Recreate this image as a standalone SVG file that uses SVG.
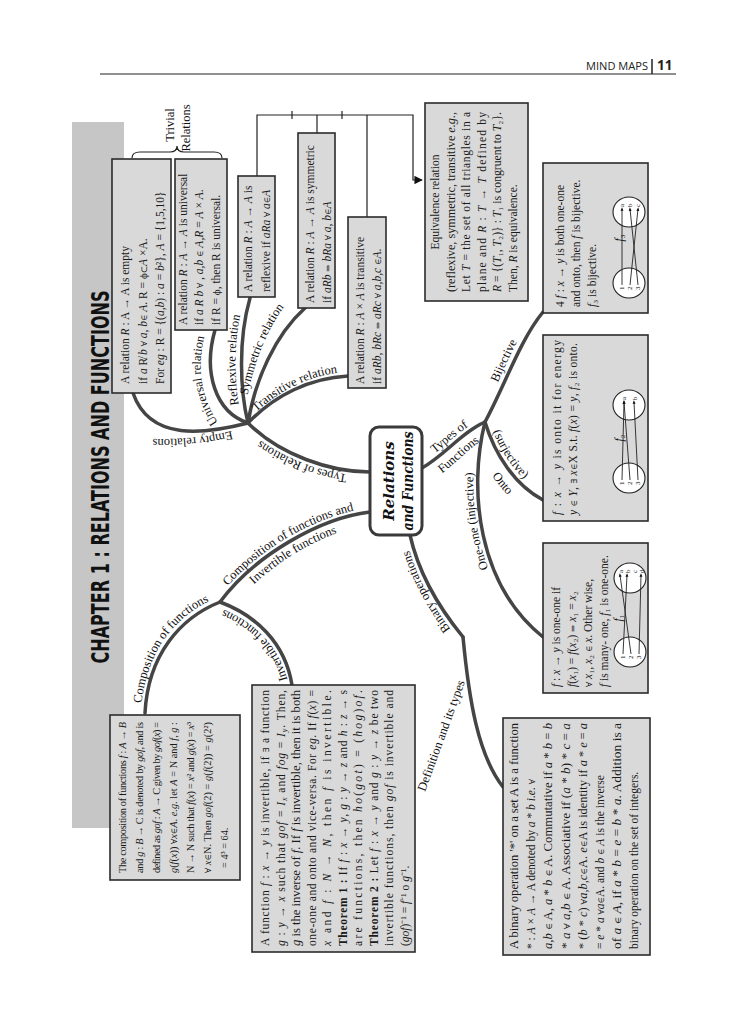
<svg xmlns="http://www.w3.org/2000/svg" width="745" height="1024" viewBox="0 0 745 1024">
<defs>
<style>
.bx{fill:#d9d9d9;stroke:#2b2b2b;stroke-width:1.6}
.t{font-family:"Liberation Serif",serif;font-size:11.5px;fill:#1a1a1a}
.c{font-size:10.3px}
.i{font-style:italic}
.b{font-weight:bold}
.m{font-family:"DejaVu Serif",serif;font-size:8.6px}
.br{fill:none;stroke:#454545;stroke-width:3.5;stroke-linecap:round}
.lb{font-family:"Liberation Serif",serif;font-size:12.5px;fill:#111}
.cn{fill:none;stroke:#222;stroke-width:1.2}
.ov{fill:#fff;stroke:#222;stroke-width:1.1}
.sm{font-family:"Liberation Serif",serif;font-size:7px;fill:#111}
.ar{stroke:#222;stroke-width:0.9;marker-end:url(#sa)}
</style>
<marker id="ah" viewBox="0 0 10 10" refX="9" refY="5" markerWidth="7" markerHeight="7" orient="auto"><path d="M0,0 L10,5 L0,10 z" fill="#111"/></marker>
<marker id="sa" viewBox="0 0 10 10" refX="5" refY="5" markerWidth="4" markerHeight="4" orient="auto"><path d="M0,1 L10,5 L0,9 z" fill="#111"/></marker>
<path id="p1" d="M368,476 C 330,476 278,459 244,427"/>
<path id="p2" d="M244,428 C 210,437 175,441 140,438"/>
<path id="p3" d="M222,428 C 204,405 194,372 206,330"/>
<path id="p4" d="M242,420 C 234,388 232,340 244,300"/>
<path id="p5" d="M244,416 C 250,372 266,322 298,291"/>
<path id="p6" d="M250,418 C 277,391 311,374 346,372"/>
<path id="p7a" d="M421,463 C 443,450 460,428 483,418"/>
<path id="p7b" d="M431,481 C 453,468 470,445 491,435"/>
<path id="p8" d="M481,418 C 500,381 515,337 538,309"/>
<path id="p9a" d="M489,420 C 499,452 519,481 546,496"/>
<path id="p9b" d="M472,432 C 482,466 503,498 533,514"/>
<path id="p10" d="M541,641 C 474,590 463,490 481,421"/>
<path id="p11" d="M459,640 C 441,618 416,583 406,537"/>
<path id="p12a" d="M218,598 C 253,551 318,514 369,508"/>
<path id="p12b" d="M232,609 C 262,568 322,531 369,525"/>
<path id="p13" d="M141,712 C 144,652 177,613 217,598"/>
<path id="p14" d="M289,687 C 281,645 251,619 217,607"/>
</defs>
<rect width="745" height="1024" fill="#fff"/>

<g id="header">
<line x1="100" y1="74" x2="676" y2="74" stroke="#222" stroke-width="1.2"/>
<line x1="652" y1="59" x2="652" y2="74" stroke="#222" stroke-width="1.5"/>
<text x="586" y="70" font-family="Open Sans, Liberation Sans, sans-serif" font-size="10" textLength="62" lengthAdjust="spacingAndGlyphs" fill="#222">MIND MAPS</text>
<text x="657" y="70" font-family="Open Sans, Liberation Sans, sans-serif" font-size="13.5" font-weight="bold" fill="#222">11</text>
</g>

<g id="connectors">
<path class="br" d="M370,472 C 330,472 280,455 248,423"/>
<path class="br" d="M248,423 C 205,434 150,442 133,393"/>
<path class="br" d="M248,423 C 215,412 203,372 215,330"/>
<path class="br" d="M248,423 C 240,390 238,340 250,298"/>
<path class="br" d="M248,423 C 255,380 275,335 305,308"/>
<path class="br" d="M248,423 C 275,395 310,378 348,376"/>
<path class="br" d="M422,468 C 445,455 462,432 485,422"/>
<path class="br" d="M485,422 C 505,385 520,340 543,312"/>
<path class="br" d="M485,422 C 495,455 515,485 543,500"/>
<path class="br" d="M485,422 C 468,490 478,585 543,637"/>
<path class="br" d="M410,535 C 420,580 445,615 463,637"/>
<path class="br" d="M463,637 C 469,700 478,755 503,787"/>
<path class="br" d="M370,512 C 320,518 255,555 220,602"/>
<path class="br" d="M220,602 C 180,618 148,655 145,713"/>
<path class="br" d="M220,602 C 255,615 285,642 292,685"/>
<path class="cn" d="M257,176 V115 H413 V180 H422" marker-end="url(#ah)"/>
<path class="cn" d="M317,115 V133 M367,115 V217 M292,111 V119 M342,111 V119"/>
<path class="cn" stroke-width="1.5" d="M132,158 Q132,152 140,152 L170,152 Q177,152 177,146 Q177,152 184,152 L214,152 Q222,152 222,158"/>
<text class="lb"><textPath href="#p1" startOffset="50%" text-anchor="middle">Types of Relations</textPath></text>
<text class="lb"><textPath href="#p2" startOffset="50%" text-anchor="middle">Empty relations</textPath></text>
<text class="lb"><textPath href="#p3" startOffset="50%" text-anchor="middle">Universal relation</textPath></text>
<text class="lb"><textPath href="#p4" startOffset="50%" text-anchor="middle">Reflexive relation</textPath></text>
<text class="lb"><textPath href="#p5" startOffset="50%" text-anchor="middle">Symmetric relation</textPath></text>
<text class="lb"><textPath href="#p6" startOffset="50%" text-anchor="middle">Transitive relation</textPath></text>
<text class="lb"><textPath href="#p7a" startOffset="50%" text-anchor="middle">Types of</textPath></text>
<text class="lb"><textPath href="#p7b" startOffset="50%" text-anchor="middle">Functions</textPath></text>
<text class="lb"><textPath href="#p8" startOffset="50%" text-anchor="middle">Bijective</textPath></text>
<text class="lb"><textPath href="#p9a" startOffset="42%" text-anchor="middle">(surjective)</textPath></text>
<text class="lb"><textPath href="#p9b" startOffset="58%" text-anchor="middle">Onto</textPath></text>
<text class="lb"><textPath href="#p10" startOffset="58%" text-anchor="middle">One-one (injective)</textPath></text>
<text class="lb"><textPath href="#p11" startOffset="50%" text-anchor="middle">Binary operations</textPath></text>
<text class="lb" font-size="11.5" transform="translate(445,737) rotate(-70)" text-anchor="middle">Definition and its types</text>
<text class="lb"><textPath href="#p12a" startOffset="50%" text-anchor="middle">Composition of functions and</textPath></text>
<text class="lb"><textPath href="#p12b" startOffset="50%" text-anchor="middle">Invertible functions</textPath></text>
<text class="lb"><textPath href="#p13" startOffset="50%" text-anchor="middle">Composition of functions</textPath></text>
<text class="lb"><textPath href="#p14" startOffset="50%" text-anchor="middle">Invertible functions</textPath></text>
</g>

<g id="rotated-page" transform="matrix(0,-1,1,0,0,1024)">
<g id="chapter-title">
<rect x="196" y="72" width="706" height="52" fill="#c6c6c6"/>
<text x="547" y="109" text-anchor="middle" font-family="DejaVu Sans Condensed, DejaVu Sans, sans-serif" font-weight="bold" font-size="24" textLength="373" lengthAdjust="spacingAndGlyphs" fill="#111">CHAPTER 1 : RELATIONS AND FUNCTIONS</text>
</g>

<g id="trivial-label">
<text class="lb" x="899" y="174" text-anchor="middle">Trivial</text>
<text class="lb" x="896" y="190" text-anchor="middle">Relations</text>
</g>

<g id="empty-relation">
<rect class="bx" x="631" y="112" width="234" height="59"/>
<text class="t" x="640" y="129">A relation <tspan class="i">R</tspan> : A → A is empty</text>
<text class="t" x="640" y="147">if <tspan class="i">a</tspan> R̸ <tspan class="i">b</tspan> <tspan class="m">∀</tspan> <tspan class="i">a</tspan>, <tspan class="i">b</tspan><tspan class="m">∈</tspan> <tspan class="i">A</tspan>. R = <tspan class="m">ϕ⊂</tspan><tspan class="i">A</tspan> ×A.</text>
<text class="t" x="640" y="164">For <tspan class="i">eg</tspan> : R = {(<tspan class="i">a,b</tspan>) : <tspan class="i">a</tspan> = <tspan class="i">b</tspan>²}, <tspan class="i">A</tspan> = {1,5,10}</text>
</g>

<g id="universal-relation">
<rect class="bx" x="694" y="175" width="171" height="52"/>
<text class="t" x="699" y="187">A relation <tspan class="i">R</tspan> : <tspan class="i">A</tspan> → <tspan class="i">A</tspan> is universal</text>
<text class="t" x="699" y="203">if <tspan class="i">a R b</tspan> <tspan class="m">∀</tspan> , <tspan class="i">a,b</tspan> <tspan class="m">∈</tspan> <tspan class="i">A,R</tspan> = <tspan class="i">A</tspan> × <tspan class="i">A</tspan>.</text>
<text class="t" x="699" y="220">if R = <tspan class="m">ϕ</tspan>, then R is universal.</text>
</g>

<g id="reflexive-relation">
<rect class="bx" x="727" y="238" width="121" height="37"/>
<text class="t" x="732" y="252">A relation <tspan class="i">R</tspan> : <tspan class="i">A</tspan> → <tspan class="i">A</tspan> is</text>
<text class="t" x="732" y="270">reflexive if <tspan class="i">aRa</tspan> <tspan class="m">∀</tspan> <tspan class="i">a</tspan><tspan class="m">∈</tspan><tspan class="i">A</tspan></text>
</g>

<g id="symmetric-relation">
<rect class="bx" x="716" y="298" width="175" height="37"/>
<text class="t" x="721" y="314">A relation <tspan class="i">R</tspan> : <tspan class="i">A</tspan> → <tspan class="i">A</tspan> is symmetric</text>
<text class="t" x="721" y="331">if <tspan class="i">aRb</tspan> <tspan class="m">⇒</tspan> <tspan class="i">bRa</tspan> <tspan class="m">∀</tspan> <tspan class="i">a</tspan>, <tspan class="i">b</tspan><tspan class="m">∈</tspan><tspan class="i">A</tspan></text>
</g>

<g id="transitive-relation">
<rect class="bx" x="636" y="348" width="171" height="38"/>
<text class="t" x="640" y="364">A relation <tspan class="i">R</tspan> : <tspan class="i">A</tspan> × <tspan class="i">A</tspan> is transitive</text>
<text class="t" x="640" y="381">if <tspan class="i">aRb</tspan>, <tspan class="i">bRc</tspan> <tspan class="m">⇒</tspan> <tspan class="i">aRc</tspan> <tspan class="m">∀</tspan> <tspan class="i">a,b,c</tspan> <tspan class="m">∈</tspan><tspan class="i">A</tspan>.</text>
</g>

<g id="equivalence-relation">
<rect class="bx" x="723" y="425" width="198" height="103"/>
<text class="t" x="822" y="439" text-anchor="middle">Equivalence relation</text>
<text class="t" x="732" y="455" textLength="180" lengthAdjust="spacingAndGlyphs">(reflexive, symmetric, transitive <tspan class="i">e.g.,</tspan></text>
<text class="t" x="732" y="470" textLength="180" lengthAdjust="spacing">Let <tspan class="i">T</tspan> = the set of all triangles in a</text>
<text class="t" x="732" y="486" textLength="180" lengthAdjust="spacing">plane and <tspan class="i">R</tspan> : <tspan class="i">T</tspan> → <tspan class="i">T</tspan> defined by</text>
<text class="t" x="732" y="501" textLength="180" lengthAdjust="spacingAndGlyphs"><tspan class="i">R</tspan> = {(<tspan class="i">T</tspan>₁, <tspan class="i">T</tspan>₂)} : <tspan class="i">T</tspan>₁ is congruent to <tspan class="i">T</tspan>₂}.</text>
<text class="t" x="732" y="517">Then, <tspan class="i">R</tspan> is equivalence.</text>
</g>

<g id="bijective">
<rect class="bx" x="711" y="543" width="150" height="105"/>
<text class="t" x="717" y="564">4 <tspan class="i">f</tspan> : <tspan class="i">x</tspan> → <tspan class="i">y</tspan> is both one-one</text>
<text class="t" x="717" y="580">and onto, then <tspan class="i">f</tspan> is bijective.</text>
<text class="t" x="717" y="596"><tspan class="i">f</tspan>₃ is bijective.</text>
<text class="t" x="786" y="623" text-anchor="middle"><tspan class="i">f</tspan>₃</text>
<ellipse class="ov" cx="741" cy="629" rx="15" ry="16"/>
<ellipse class="ov" cx="812" cy="629" rx="15" ry="16"/>
<text class="sm" x="734" y="624">1</text><text class="sm" x="734" y="632">2</text><text class="sm" x="734" y="640">3</text>
<text class="sm" x="817" y="624">a</text><text class="sm" x="817" y="632">b</text><text class="sm" x="817" y="640">c</text>
<line class="ar" x1="739" y1="622" x2="815" y2="622"/>
<line class="ar" x1="739" y1="630" x2="815" y2="638"/>
<line class="ar" x1="739" y1="638" x2="815" y2="630"/>
</g>

<g id="onto">
<rect class="bx" x="503" y="543" width="186" height="105"/>
<text class="t" x="509" y="561" textLength="175" lengthAdjust="spacing"><tspan class="i">f</tspan> : <tspan class="i">x</tspan> → <tspan class="i">y</tspan> is onto it for energy</text>
<text class="t" x="509" y="577" textLength="172" lengthAdjust="spacing"><tspan class="i">y</tspan> <tspan class="m">∈</tspan> <tspan class="i">Y</tspan>, <tspan class="m">∃</tspan> <tspan class="i">x</tspan><tspan class="m">∈</tspan>X S.t. <tspan class="i">f</tspan>(<tspan class="i">x</tspan>) = <tspan class="i">y</tspan>, <tspan class="i">f</tspan>₂ is onto.</text>
<text class="t" x="586" y="623" text-anchor="middle"><tspan class="i">f</tspan>₂</text>
<ellipse class="ov" cx="546" cy="629" rx="15" ry="16"/>
<ellipse class="ov" cx="619" cy="629" rx="15" ry="16"/>
<text class="sm" x="539" y="624">1</text><text class="sm" x="539" y="632">2</text><text class="sm" x="539" y="640">3</text>
<text class="sm" x="624" y="626">a</text><text class="sm" x="624" y="637">b</text>
<line class="ar" x1="544" y1="622" x2="622" y2="624"/>
<line class="ar" x1="544" y1="630" x2="622" y2="624"/>
<line class="ar" x1="544" y1="638" x2="622" y2="634"/>
</g>

<g id="one-one">
<rect class="bx" x="331" y="543" width="150" height="105"/>
<text class="t" x="337" y="560"><tspan class="i">f</tspan> : <tspan class="i">x</tspan> → <tspan class="i">y</tspan> is one-one if</text>
<text class="t" x="337" y="576"><tspan class="i">f</tspan>(<tspan class="i">x</tspan>₁) = <tspan class="i">f</tspan>(<tspan class="i">x</tspan>₂) <tspan class="m">⇒</tspan> <tspan class="i">x</tspan>₁ = <tspan class="i">x</tspan>₂</text>
<text class="t" x="337" y="592"><tspan class="m">∀</tspan> <tspan class="i">x</tspan>₁, <tspan class="i">x</tspan>₂ <tspan class="m">∈</tspan> <tspan class="i">x</tspan>. Other wise,</text>
<text class="t" x="337" y="608"><tspan class="i">f</tspan> is many- one, <tspan class="i">f</tspan>₁ is one-one.</text>
<text class="t" x="406" y="622" text-anchor="middle"><tspan class="i">f</tspan>₁</text>
<ellipse class="ov" cx="372" cy="630" rx="15" ry="16"/>
<ellipse class="ov" cx="446" cy="630" rx="15" ry="16"/>
<text class="sm" x="365" y="625">1</text><text class="sm" x="365" y="633">2</text><text class="sm" x="365" y="641">3</text>
<text class="sm" x="451" y="623">a</text><text class="sm" x="451" y="630">b</text><text class="sm" x="451" y="637">c</text><text class="sm" x="451" y="644">d</text>
<line class="ar" x1="370" y1="623" x2="449" y2="627"/>
<line class="ar" x1="370" y1="631" x2="449" y2="620"/>
<line class="ar" x1="370" y1="639" x2="449" y2="641"/>
</g>

<g id="composition">
<rect class="bx" x="144" y="110" width="165" height="130"/>
<text class="t c" x="151" y="126" textLength="151" lengthAdjust="spacing">The composition of functions <tspan class="i">f</tspan> : <tspan class="i">A</tspan> → <tspan class="i">B</tspan></text>
<text class="t c" x="151" y="143" textLength="151" lengthAdjust="spacing">and <tspan class="i">g</tspan> : <tspan class="i">B</tspan> → C is denoted by <tspan class="i">gof</tspan>, and is</text>
<text class="t c" x="151" y="160" textLength="151" lengthAdjust="spacing">defined as <tspan class="i">gof</tspan> : <tspan class="i">A</tspan> → C given by <tspan class="i">gof</tspan>(<tspan class="i">x</tspan>) =</text>
<text class="t c" x="151" y="177" textLength="151" lengthAdjust="spacing"><tspan class="i">g</tspan>(<tspan class="i">f</tspan>(<tspan class="i">x</tspan>)) <tspan class="m">∀</tspan><tspan class="i">x</tspan><tspan class="m">∈</tspan><tspan class="i">A</tspan>. <tspan class="i">e.g.</tspan> let <tspan class="i">A</tspan> = N and <tspan class="i">f</tspan>, <tspan class="i">g</tspan> :</text>
<text class="t c" x="151" y="194" textLength="151" lengthAdjust="spacing">N → N such that <tspan class="i">f</tspan>(<tspan class="i">x</tspan>) = <tspan class="i">x</tspan>² and <tspan class="i">g</tspan>(<tspan class="i">x</tspan>) = <tspan class="i">x</tspan>³</text>
<text class="t c" x="151" y="211" textLength="151" lengthAdjust="spacing"><tspan class="m">∀</tspan> <tspan class="i">x</tspan><tspan class="m">∈</tspan>N. Then <tspan class="i">gof</tspan>(2) = <tspan class="i">g</tspan>(<tspan class="i">f</tspan>(2)) = <tspan class="i">g</tspan>(2²)</text>
<text class="t c" x="156" y="228">= 4³ = 64.</text>
</g>

<g id="invertible">
<rect class="bx" x="72" y="252" width="267" height="163"/>
<text class="t" x="78" y="269" textLength="256" lengthAdjust="spacing">A function <tspan class="i">f</tspan> : <tspan class="i">x</tspan> → <tspan class="i">y</tspan> is invertible, if <tspan class="m">∃</tspan> a function</text>
<text class="t" x="78" y="284.5" textLength="256" lengthAdjust="spacing"><tspan class="i">g</tspan> : <tspan class="i">y</tspan> → <tspan class="i">x</tspan> such that <tspan class="i">gof</tspan> = <tspan class="i">I</tspan><tspan class="i" font-size="8" dy="2">x</tspan><tspan dy="-2"> and </tspan><tspan class="i">fog</tspan> = <tspan class="i">I</tspan><tspan class="i" font-size="8" dy="2">y</tspan><tspan dy="-2">. Then,</tspan></text>
<text class="t" x="78" y="300" textLength="256" lengthAdjust="spacingAndGlyphs"><tspan class="i">g</tspan> is the inverse of <tspan class="i">f</tspan>. If <tspan class="i">f</tspan> is invertible, then it is both</text>
<text class="t" x="78" y="315.5" textLength="256" lengthAdjust="spacing">one-one and onto and vice-versa. For <tspan class="i">eg</tspan>. If <tspan class="i">f</tspan>(<tspan class="i">x</tspan>) =</text>
<text class="t" x="78" y="331" textLength="256" lengthAdjust="spacing"><tspan class="i">x</tspan> and <tspan class="i">f</tspan> : <tspan class="i">N</tspan> → <tspan class="i">N</tspan>, then <tspan class="i">f</tspan> is invertible.</text>
<text class="t" x="78" y="346.5" textLength="256" lengthAdjust="spacing"><tspan class="b">Theorem 1 :</tspan> If <tspan class="i">f</tspan> : <tspan class="i">x</tspan> → <tspan class="i">y</tspan>, <tspan class="i">g</tspan> : <tspan class="i">y</tspan> → <tspan class="i">z</tspan> and <tspan class="i">h</tspan> : <tspan class="i">z</tspan> → s</text>
<text class="t" x="78" y="362" textLength="256" lengthAdjust="spacing">are functions, then <tspan class="i">ho</tspan>(<tspan class="i">got</tspan>) = (<tspan class="i">hog</tspan>)<tspan class="i">of</tspan>.</text>
<text class="t" x="78" y="377.5" textLength="256" lengthAdjust="spacing"><tspan class="b">Theorem 2 :</tspan> Let <tspan class="i">f</tspan> : <tspan class="i">x</tspan> → <tspan class="i">y</tspan> and <tspan class="i">g</tspan> : <tspan class="i">y</tspan> → <tspan class="i">z</tspan> be two</text>
<text class="t" x="78" y="393" textLength="256" lengthAdjust="spacing">invertible functions, then <tspan class="i">gof</tspan> is invertible and</text>
<text class="t" x="78" y="408.5">(<tspan class="i">gof</tspan>)⁻¹ = <tspan class="i">f</tspan>⁻¹ o <tspan class="i">g</tspan>⁻¹.</text>
</g>

<g id="binary">
<rect class="bx" x="69" y="503" width="237" height="147"/>
<text class="t" x="75" y="518" textLength="226" lengthAdjust="spacingAndGlyphs">A binary operation '*' on a set A is a function</text>
<text class="t" x="75" y="535">* : <tspan class="i">A</tspan> × <tspan class="i">A</tspan> → A denoted by <tspan class="i">a</tspan> * <tspan class="i">b i.e.</tspan> <tspan class="m">∀</tspan></text>
<text class="t" x="75" y="552" textLength="226" lengthAdjust="spacingAndGlyphs"><tspan class="i">a,b</tspan> <tspan class="m">∈</tspan> A, <tspan class="i">a</tspan> * <tspan class="i">b</tspan> <tspan class="m">∈</tspan> A. Commutative if <tspan class="i">a</tspan> * <tspan class="i">b</tspan> = <tspan class="i">b</tspan></text>
<text class="t" x="75" y="570" textLength="226" lengthAdjust="spacingAndGlyphs">* <tspan class="i">a</tspan> <tspan class="m">∀</tspan> <tspan class="i">a,b</tspan> <tspan class="m">∈</tspan> A. Associative if (<tspan class="i">a</tspan> * <tspan class="i">b</tspan>) * <tspan class="i">c</tspan> = <tspan class="i">a</tspan></text>
<text class="t" x="75" y="587" textLength="226" lengthAdjust="spacingAndGlyphs">* (<tspan class="i">b</tspan> * <tspan class="i">c</tspan>) <tspan class="m">∀</tspan><tspan class="i">a,b,c</tspan><tspan class="m">∈</tspan>A. <tspan class="i">e</tspan><tspan class="m">∈</tspan>A is identity if <tspan class="i">a</tspan> * <tspan class="i">e</tspan> = <tspan class="i">a</tspan></text>
<text class="t" x="75" y="604">= <tspan class="i">e</tspan> * <tspan class="i">a</tspan> <tspan class="m">∀</tspan><tspan class="i">a</tspan><tspan class="m">∈</tspan>A. and <tspan class="i">b</tspan> <tspan class="m">∈</tspan> <tspan class="i">A</tspan> is the inverse</text>
<text class="t" x="75" y="621" textLength="226" lengthAdjust="spacingAndGlyphs">of <tspan class="i">a</tspan> <tspan class="m">∈</tspan> <tspan class="i">A</tspan>, if <tspan class="i">a</tspan> * <tspan class="i">b</tspan> = <tspan class="i">e</tspan> = <tspan class="i">b</tspan> * <tspan class="i">a</tspan>. Addition is a</text>
<text class="t" x="75" y="638">binary operation on the set of integers.</text>
</g>

<g id="central-node">
<rect x="489" y="370" width="108" height="52" rx="9" fill="#fff" stroke="#3a3a3a" stroke-width="3"/>
<text x="543" y="394" text-anchor="middle" font-family="DejaVu Serif, serif" font-style="italic" font-weight="bold" font-size="15" fill="#111">Relations</text>
<text x="543" y="413" text-anchor="middle" font-family="DejaVu Serif, serif" font-style="italic" font-weight="bold" font-size="15" textLength="99" lengthAdjust="spacingAndGlyphs" fill="#111">and Functions</text>
</g>
</g>
</svg>
